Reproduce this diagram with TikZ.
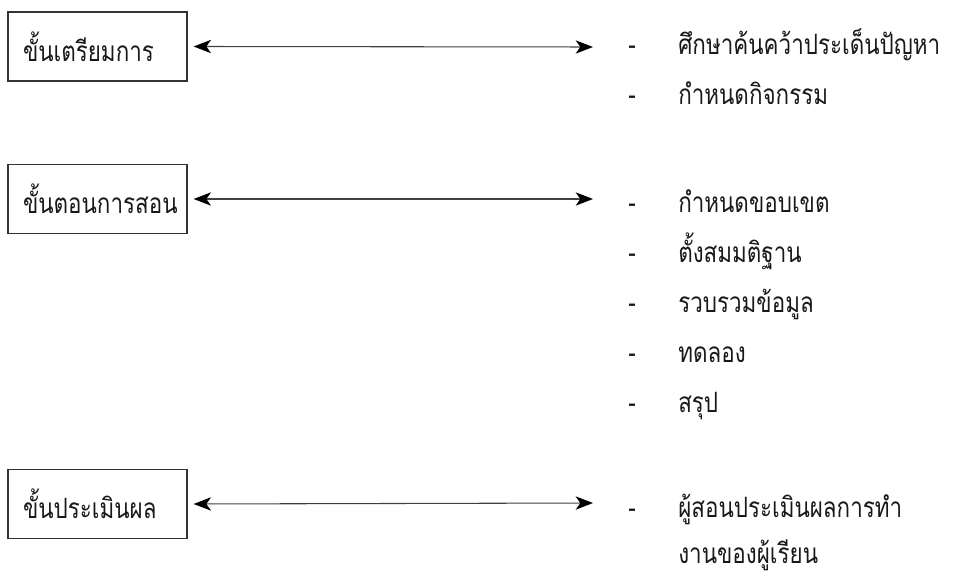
\documentclass[tikz,border=0pt]{standalone}
\usepackage{fontspec}
\newfontfamily\thaifont[Script=Thai,FakeStretch=0.8]{Loma}
\usetikzlibrary{arrows.meta}
\begin{document}
\begin{tikzpicture}[x=0.75pt,y=-0.75pt,
  txt/.style={font=\thaifont\fontsize{21}{24}\selectfont, text=black!90},
  stagebox/.style={txt, draw=black!80, line width=1pt, minimum height=51.75pt,
    text width=111.75pt, inner xsep=11.25pt, align=left},
  item/.style={txt, anchor=base west, inner sep=0pt},
  dashmark/.style={txt, anchor=base, inner sep=0pt},
  link/.style={draw=black!75, line width=0.8pt,
    {Stealth[length=13pt,width=10pt,inset=3.5pt,fill=black,color=black]}-{Stealth[length=13pt,width=10pt,inset=3.5pt,fill=black,color=black]}}
]
\useasboundingbox (0,0) rectangle (954,573);

% stage boxes
\node[stagebox] (s1) at (97.5,46.5) {ขั้นเตรียมการ};
\node[stagebox] (s2) at (97.5,199) {ขั้นตอนการสอน};
\node[stagebox] (s3) at (97.5,504) {ขั้นประเมินผล};

% arrow ends
\coordinate (e1) at (593,47);
\coordinate (e2) at (593,199);
\coordinate (e3) at (593,503);

\draw[link] ([xshift=4.5pt]s1.east) -- (e1);
\draw[link] ([xshift=4.5pt]s2.east) -- (e2);
\draw[link] ([xshift=4.5pt]s3.east) -- (e3);

% group 1
\node[dashmark] (d11) at (632,55) {-};
\node[item] (t11) at (678,55) {ศึกษาค้นคว้าประเด็นปัญหา};
\node[dashmark] (d12) at (632,105) {-};
\node[item] (t12) at (678,105) {กำหนดกิจกรรม};

% group 2
\node[dashmark] (d21) at (632,213) {-};
\node[item] (t21) at (678,213) {กำหนดขอบเขต};
\node[dashmark] (d22) at (632,263) {-};
\node[item] (t22) at (678,263) {ตั้งสมมติฐาน};
\node[dashmark] (d23) at (632,313) {-};
\node[item] (t23) at (678,313) {รวบรวมข้อมูล};
\node[dashmark] (d24) at (632,363) {-};
\node[item] (t24) at (678,363) {ทดลอง};
\node[dashmark] (d25) at (632,413) {-};
\node[item] (t25) at (678,413) {สรุป};

% group 3
\node[dashmark] (d31) at (632,518) {-};
\node[item] (t31) at (678,518) {ผู้สอนประเมินผลการทำ};
\node[item] (t32) at (678,564) {งานของผู้เรียน};
\end{tikzpicture}
\end{document}
